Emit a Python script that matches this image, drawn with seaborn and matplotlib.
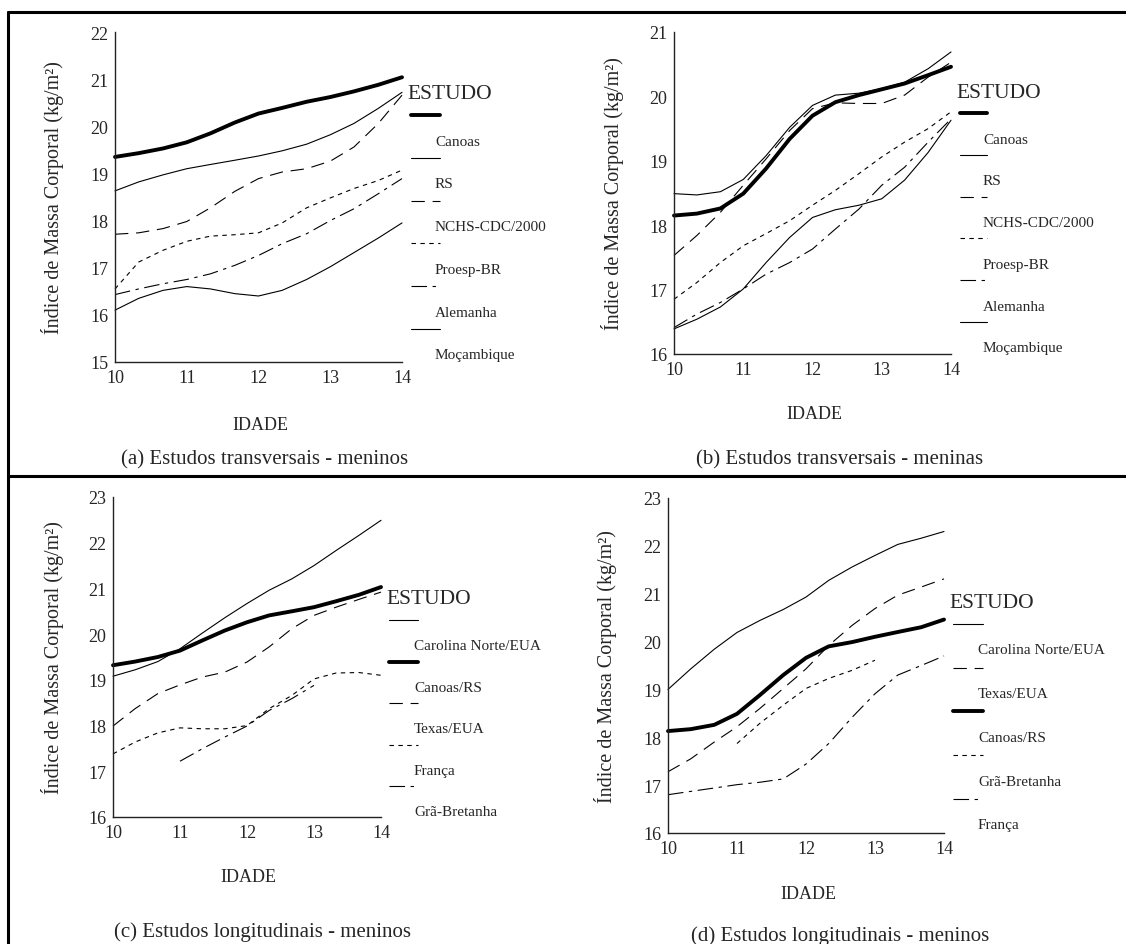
import numpy as np
import pandas as pd
import matplotlib
matplotlib.use("Agg")
import matplotlib.pyplot as plt
from matplotlib.lines import Line2D
import seaborn as sns

# idades (pontos a cada 1/3 de ano)
ages = [10, 10.33, 10.67, 11, 11.33, 11.67, 12, 12.33, 12.67, 13, 13.33, 13.67, 14]
NA = np.nan

# (a) transversais - meninos
a_canoas = [19.35, 19.43, 19.53, 19.66, 19.85, 20.08, 20.27, 20.39, 20.52, 20.62, 20.74, 20.88, 21.04]
a_rs = [18.63, 18.82, 18.97, 19.10, 19.19, 19.28, 19.37, 19.48, 19.62, 19.82, 20.06, 20.38, 20.72]
a_nchs = [17.71, 17.74, 17.83, 17.98, 18.27, 18.62, 18.89, 19.03, 19.10, 19.26, 19.56, 20.06, 20.66]
a_proesp = [16.55, 17.12, 17.37, 17.56, 17.67, 17.70, 17.74, 17.95, 18.27, 18.48, 18.68, 18.85, 19.07]
a_alemanha = [16.43, 16.55, 16.66, 16.75, 16.87, 17.05, 17.26, 17.51, 17.72, 18.00, 18.25, 18.57, 18.89]
a_mocambique = [16.10, 16.35, 16.52, 16.60, 16.55, 16.45, 16.40, 16.52, 16.75, 17.02, 17.32, 17.63, 17.95]

# (b) transversais - meninas
b_canoas = [18.15, 18.18, 18.26, 18.49, 18.88, 19.34, 19.70, 19.91, 20.02, 20.11, 20.20, 20.33, 20.46]
b_rs = [18.49, 18.47, 18.52, 18.71, 19.08, 19.52, 19.86, 20.02, 20.05, 20.12, 20.22, 20.43, 20.69]
b_nchs = [17.53, 17.84, 18.20, 18.62, 19.03, 19.47, 19.81, 19.90, 19.89, 19.89, 20.02, 20.30, 20.53]
b_proesp = [16.85, 17.11, 17.42, 17.68, 17.87, 18.07, 18.31, 18.54, 18.80, 19.06, 19.29, 19.50, 19.76]
b_alemanha = [16.41, 16.62, 16.80, 17.01, 17.24, 17.42, 17.63, 17.94, 18.25, 18.62, 18.90, 19.29, 19.65]
b_mocambique = [16.39, 16.54, 16.73, 17.01, 17.42, 17.81, 18.12, 18.24, 18.31, 18.41, 18.70, 19.13, 19.63]

# (c) longitudinais - meninos
c_carolina = [19.08, 19.22, 19.40, 19.68, 20.02, 20.36, 20.67, 20.96, 21.21, 21.50, 21.83, 22.16, 22.49]
c_canoas = [19.32, 19.40, 19.50, 19.64, 19.86, 20.08, 20.26, 20.41, 20.50, 20.59, 20.72, 20.86, 21.03]
c_texas = [17.99, 18.37, 18.70, 18.89, 19.06, 19.17, 19.39, 19.72, 20.12, 20.41, 20.59, 20.76, 20.92]
c_franca = [17.38, 17.64, 17.84, 17.95, 17.93, 17.93, 18.00, 18.37, 18.66, 19.02, 19.15, 19.16, 19.10]
c_gb = [NA, NA, NA, 17.22, 17.49, 17.75, 17.99, 18.33, 18.59, 18.88, NA, NA, NA]

# (d) longitudinais - meninos
d_carolina = [19.00, 19.43, 19.84, 20.19, 20.44, 20.67, 20.93, 21.28, 21.56, 21.80, 22.03, 22.16, 22.30]
d_texas = [17.28, 17.55, 17.90, 18.22, 18.60, 19.02, 19.43, 19.92, 20.34, 20.69, 20.97, 21.14, 21.31]
d_canoas = [18.13, 18.17, 18.26, 18.49, 18.88, 19.30, 19.66, 19.90, 19.99, 20.10, 20.20, 20.30, 20.46]
d_gb = [NA, NA, NA, 17.87, 18.29, 18.67, 19.02, 19.23, 19.40, 19.61, NA, NA, NA]
d_franca = [16.80, 16.87, 16.94, 17.01, 17.06, 17.13, 17.44, 17.87, 18.42, 18.91, 19.30, 19.50, 19.70]

W, H = 1126, 945
SERIF = ["Liberation Serif", "DejaVu Serif"]

sns.set_theme(style="white")
plt.rcParams["font.family"] = SERIF

THICK = dict(lw=2.8, ls="-")
THIN = dict(lw=0.8, ls="-")
LDASH = dict(lw=0.8, ls=(0, (12, 7)))
SDASH = dict(lw=0.8, ls=(0, (4, 4)))
DDOT = dict(lw=0.8, ls=(0, (14, 5, 3, 5)))

fig = plt.figure(figsize=(W / 100, H / 100), dpi=100)


def fx(x):
    return x / W


def fy(y):
    return 1 - y / H


def panel(box, ylim, series, legend, leg_pos, ylab_x, idade, caption):
    l, t, r, b = box
    ax = fig.add_axes([fx(l), fy(b), fx(r - l), (b - t) / H])
    for vals, st in series:
        df = pd.DataFrame({"idade": ages, "imc": vals}).dropna()
        sns.lineplot(data=df, x="idade", y="imc", ax=ax, color="black",
                     linewidth=st["lw"], linestyle=st["ls"], clip_on=False)
    ax.set_xlim(10, 14)
    ax.set_ylim(*ylim)
    ax.set_xticks([10, 11, 12, 13, 14])
    ax.set_yticks(range(ylim[0], ylim[1] + 1))
    ax.tick_params(length=0, labelsize=13, pad=5)
    for s in ["top", "right"]:
        ax.spines[s].set_visible(False)
    for s in ["left", "bottom"]:
        ax.spines[s].set_color("#222222")
        ax.spines[s].set_linewidth(1.0)
    ax.set_xlabel("")
    ax.set_ylabel("Índice de Massa Corporal (kg/m²)", fontsize=14.5)
    ax.yaxis.set_label_coords((ylab_x - l) / (r - l), 0.5)

    # legenda no estilo do original: linha acima de cada rótulo
    lx0, ly0, line_x0, line_x1, lab_x, step = leg_pos
    fig.text(fx(lx0), fy(ly0), "ESTUDO", fontsize=15.5, va="center", ha="left")
    for i, (name, st) in enumerate(legend):
        yl = ly0 + 21 + i * step
        fig.add_artist(Line2D([fx(line_x0), fx(line_x1)], [fy(yl), fy(yl)],
                              color="black", lw=st["lw"], ls=st["ls"]))
        fig.text(fx(lab_x), fy(yl + 26), name, fontsize=11, va="center", ha="left")

    fig.text(fx(idade[0]), fy(idade[1]), "IDADE", fontsize=13, ha="center", va="center")
    fig.text(fx(caption[0]), fy(caption[1]), caption[2], fontsize=15, ha="center", va="center")
    return ax


names_t = ["Canoas", "RS", "NCHS-CDC/2000", "Proesp-BR", "Alemanha", "Moçambique"]
styles_t = [THICK, THIN, LDASH, SDASH, DDOT, THIN]

panel((115, 33, 402, 363), (15, 22),
      list(zip([a_canoas, a_rs, a_nchs, a_proesp, a_alemanha, a_mocambique], styles_t)),
      list(zip(names_t, styles_t)),
      (407, 95, 411, 440, 435, 42.8), 64, (260, 425),
      (265, 460, "(a) Estudos transversais - meninos"))

panel((674, 33, 951, 355), (16, 21),
      list(zip([b_canoas, b_rs, b_nchs, b_proesp, b_alemanha, b_mocambique], styles_t)),
      list(zip(names_t, styles_t)),
      (956, 93, 960, 987, 983, 41.8), 624, (814, 415),
      (840, 460, "(b) Estudos transversais - meninas"))

names_c = ["Carolina Norte/EUA", "Canoas/RS", "Texas/EUA", "França", "Grã-Bretanha"]
styles_c = [THIN, THICK, LDASH, SDASH, DDOT]
panel((113, 498, 381, 818), (16, 23),
      list(zip([c_carolina, c_canoas, c_texas, c_franca, c_gb], styles_c)),
      list(zip(names_c, styles_c)),
      (386, 600, 389, 418, 414, 41.5), 64, (248, 878),
      (262, 932, "(c) Estudos longitudinais - meninos"))

names_d = ["Carolina Norte/EUA", "Texas/EUA", "Canoas/RS", "Grã-Bretanha", "França"]
styles_d = [THIN, LDASH, THICK, SDASH, DDOT]
panel((668, 499, 944, 834), (16, 23),
      list(zip([d_carolina, d_texas, d_canoas, d_gb, d_franca], styles_d)),
      list(zip(names_d, styles_d)),
      (949, 604, 953, 983, 978, 43.7), 617, (808, 895),
      (840, 936, "(d) Estudos longitudinais - meninos"))

# molduras
for xs, ys in [([8, W], [13, 13]), ([8, 8], [13, H]), ([8, W], [477, 477])]:
    fig.add_artist(Line2D([fx(v) for v in xs], [fy(v) for v in ys], color="black", lw=2.2))

fig.savefig("out.png", dpi=100, facecolor="white")
